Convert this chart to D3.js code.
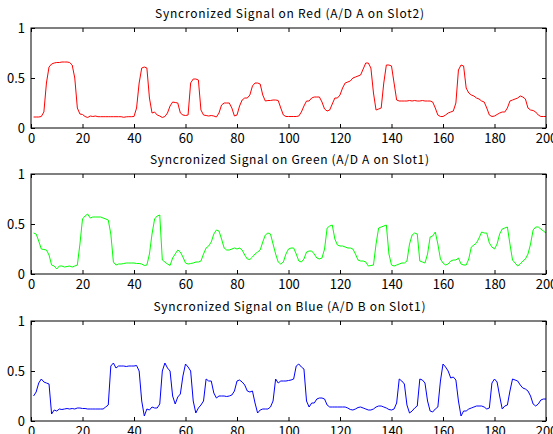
<!DOCTYPE html>
<html>
<head>
<meta charset="utf-8">
<script src="https://cdn.jsdelivr.net/npm/d3@7"></script>
<style>
  body { margin: 0; background: #fff; }
  svg { display: block; }
  text { font-family: "Noto Sans CJK JP", "DejaVu Sans", sans-serif; }
</style>
</head>
<body>
<svg id="chart" width="553" height="434"></svg>
<script>
// values sampled at x = 1..200
const red = [
  0.11,0.11,0.11,0.115,0.16,0.45,0.61,0.64,0.65,0.655,
  0.655,0.66,0.66,0.66,0.655,0.63,0.5,0.2,0.14,0.135,
  0.115,0.105,0.12,0.115,0.12,0.113,0.113,0.113,0.113,0.113,
  0.113,0.113,0.113,0.113,0.113,0.107,0.112,0.113,0.113,0.115,
  0.2,0.45,0.6,0.61,0.6,0.3,0.15,0.16,0.13,0.12,
  0.105,0.115,0.15,0.22,0.26,0.255,0.25,0.15,0.13,0.125,
  0.13,0.45,0.49,0.49,0.48,0.18,0.13,0.125,0.12,0.125,
  0.12,0.11,0.15,0.23,0.25,0.25,0.25,0.2,0.12,0.13,
  0.22,0.28,0.3,0.3,0.33,0.42,0.45,0.45,0.44,0.33,
  0.27,0.275,0.275,0.28,0.28,0.275,0.2,0.13,0.115,0.115,
  0.115,0.115,0.115,0.12,0.16,0.22,0.27,0.27,0.3,0.31,
  0.31,0.31,0.26,0.19,0.17,0.18,0.24,0.3,0.3,0.33,
  0.4,0.45,0.46,0.47,0.5,0.51,0.52,0.53,0.59,0.65,
  0.65,0.6,0.35,0.18,0.19,0.2,0.45,0.63,0.63,0.62,
  0.45,0.28,0.27,0.27,0.27,0.27,0.275,0.27,0.275,0.27,
  0.27,0.275,0.27,0.27,0.27,0.26,0.2,0.13,0.115,0.115,
  0.13,0.15,0.16,0.17,0.25,0.58,0.63,0.62,0.4,0.35,
  0.33,0.32,0.3,0.29,0.27,0.26,0.2,0.13,0.115,0.12,
  0.135,0.15,0.16,0.16,0.2,0.27,0.28,0.29,0.3,0.32,
  0.31,0.29,0.2,0.18,0.175,0.16,0.13,0.115,0.115,0.115
];
const green = [
  0.41,0.40,0.33,0.25,0.245,0.24,0.19,0.09,0.08,0.05,
  0.08,0.08,0.07,0.075,0.08,0.07,0.08,0.09,0.3,0.55,
  0.58,0.6,0.56,0.57,0.57,0.57,0.57,0.56,0.55,0.54,
  0.4,0.12,0.09,0.1,0.1,0.105,0.11,0.11,0.11,0.11,
  0.105,0.105,0.1,0.085,0.09,0.2,0.4,0.55,0.58,0.59,
  0.14,0.12,0.1,0.085,0.16,0.2,0.24,0.22,0.17,0.11,
  0.1,0.105,0.11,0.12,0.12,0.13,0.2,0.26,0.28,0.32,
  0.4,0.44,0.43,0.35,0.26,0.24,0.24,0.25,0.26,0.25,
  0.26,0.24,0.19,0.15,0.145,0.17,0.2,0.22,0.24,0.32,
  0.39,0.41,0.4,0.3,0.2,0.12,0.1,0.12,0.2,0.25,
  0.26,0.26,0.2,0.13,0.12,0.15,0.22,0.23,0.23,0.2,
  0.16,0.15,0.16,0.25,0.46,0.48,0.49,0.35,0.29,0.28,
  0.28,0.27,0.26,0.26,0.25,0.2,0.14,0.13,0.13,0.12,
  0.08,0.085,0.09,0.3,0.46,0.47,0.48,0.49,0.2,0.09,
  0.08,0.09,0.1,0.11,0.11,0.13,0.3,0.39,0.41,0.4,
  0.13,0.12,0.11,0.2,0.37,0.38,0.42,0.3,0.15,0.11,
  0.09,0.1,0.13,0.14,0.14,0.16,0.1,0.09,0.09,0.15,
  0.27,0.29,0.31,0.36,0.42,0.41,0.41,0.31,0.27,0.25,
  0.3,0.4,0.45,0.46,0.47,0.3,0.14,0.11,0.08,0.1,
  0.13,0.15,0.2,0.3,0.44,0.47,0.47,0.45,0.43,0.41
];
const blue = [
  0.25,0.29,0.38,0.42,0.39,0.38,0.37,0.07,0.11,0.1,
  0.12,0.115,0.12,0.125,0.12,0.125,0.12,0.13,0.13,0.125,
  0.125,0.12,0.12,0.12,0.12,0.12,0.12,0.12,0.14,0.16,
  0.55,0.58,0.53,0.55,0.55,0.55,0.545,0.55,0.55,0.55,
  0.555,0.5,0.2,0.05,0.12,0.11,0.14,0.13,0.13,0.17,
  0.5,0.58,0.53,0.5,0.25,0.17,0.24,0.27,0.45,0.57,
  0.54,0.5,0.2,0.08,0.13,0.16,0.2,0.42,0.4,0.4,
  0.28,0.23,0.25,0.25,0.25,0.245,0.25,0.26,0.3,0.4,
  0.41,0.39,0.36,0.3,0.29,0.3,0.18,0.08,0.11,0.12,
  0.12,0.12,0.14,0.2,0.42,0.38,0.4,0.4,0.4,0.405,
  0.41,0.42,0.55,0.57,0.54,0.52,0.2,0.14,0.18,0.18,
  0.22,0.23,0.23,0.22,0.16,0.14,0.14,0.14,0.14,0.14,
  0.14,0.14,0.13,0.115,0.11,0.12,0.135,0.14,0.13,0.12,
  0.11,0.11,0.12,0.14,0.15,0.15,0.14,0.13,0.115,0.11,
  0.12,0.18,0.42,0.4,0.37,0.16,0.08,0.1,0.13,0.15,
  0.42,0.41,0.38,0.2,0.1,0.09,0.12,0.14,0.4,0.57,
  0.54,0.5,0.43,0.44,0.41,0.2,0.05,0.1,0.1,0.12,
  0.13,0.14,0.15,0.15,0.15,0.14,0.12,0.13,0.38,0.42,
  0.39,0.25,0.12,0.15,0.16,0.3,0.42,0.41,0.4,0.36,
  0.33,0.32,0.3,0.25,0.17,0.15,0.17,0.21,0.22,0.22
];
const titles = [
  "Syncronized Signal on Red (A/D A on Slot2)",
  "Syncronized Signal on Green (A/D A on Slot1)",
  "Syncronized Signal on Blue (A/D B on Slot1)"
];
const titleWidths = [269, 279, 272];
const colors = ["#ff0000", "#00ff00", "#0000ff"];
const xTicks = d3.range(0, 201, 20);
const yTicks = [0, 0.5, 1];

const svg = d3.select("#chart");
const left = 31, right = 546, ph = 100;
const tops = [28, 174, 321];

const x = d3.scaleLinear().domain([0, 200]).range([left, right]);

[red, green, blue].forEach((vals, i) => {
    const top = tops[i];
    const y = d3.scaleLinear().domain([0, 1]).range([top + ph, top]);
    const g = svg.append("g");

    g.append("text")
        .attr("x", (left + right) / 2 + 1).attr("y", top - 10)
        .attr("text-anchor", "middle")
        .attr("font-size", 12)
        .attr("textLength", titleWidths[i])
        .attr("lengthAdjust", "spacing")
        .text(titles[i]);

    g.append("path")
        .datum(vals)
        .attr("fill", "none")
        .attr("stroke", colors[i])
        .attr("stroke-width", 1)
        .attr("d", d3.line().x((d, k) => x(k + 1)).y(d => y(d)));

    // ticks point inward, labels only bottom and left
    const ax = [
        [d3.axisBottom(x).tickValues(xTicks), top + ph, true],
        [d3.axisTop(x).tickValues(xTicks), top, false]
    ];
    ax.forEach(([a, ty, lab]) => {
        const ag = g.append("g").attr("transform", `translate(0,${ty})`)
            .call(a.tickSizeInner(-4).tickSizeOuter(0).tickPadding(6)
                   .tickFormat(lab ? d3.format("d") : ""));
        ag.select(".domain").remove();
    });
    [[d3.axisLeft(y), left, true], [d3.axisRight(y), right, false]].forEach(([a, tx, lab]) => {
        const ag = g.append("g").attr("transform", `translate(${tx},0)`)
            .call(a.tickValues(yTicks).tickSizeInner(-4).tickSizeOuter(0).tickPadding(6)
                   .tickFormat(lab ? (d => d === 0.5 ? "0.5" : d3.format("d")(d)) : ""));
        ag.select(".domain").remove();
    });
    g.selectAll(".tick text").attr("font-size", 13).attr("fill", "#000")
        .attr("font-family", "\"Noto Sans CJK JP\", sans-serif");
    g.selectAll(".tick line").attr("stroke", "#000");

    g.append("rect")
        .attr("x", left).attr("y", top)
        .attr("width", right - left).attr("height", ph)
        .attr("fill", "none").attr("stroke", "#000").attr("stroke-width", 1);
});
</script>
</body>
</html>
